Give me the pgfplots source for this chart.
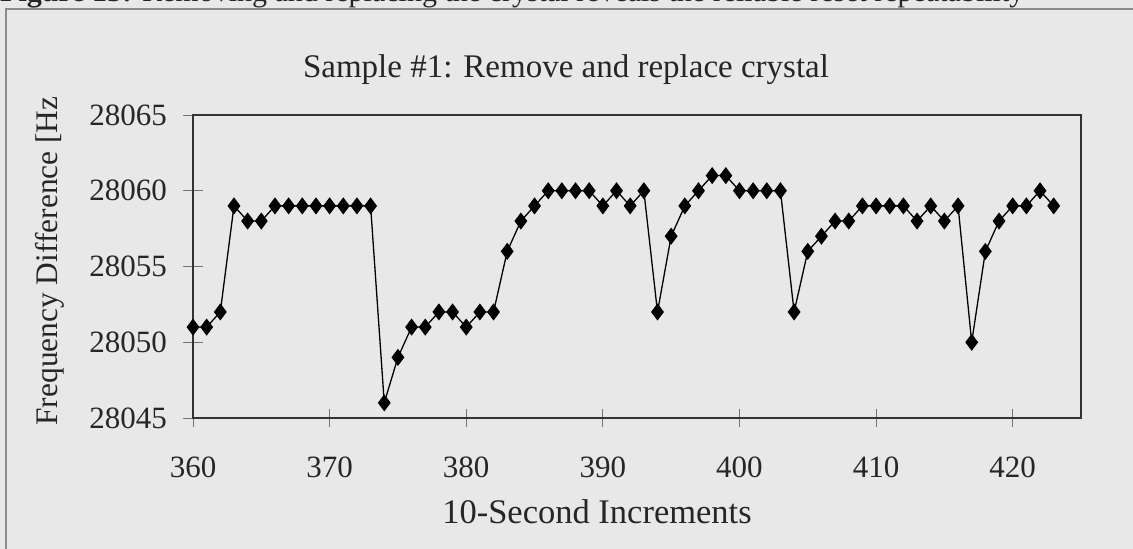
\documentclass[border=0pt]{standalone}
\usepackage{pgfplots}
\pgfplotsset{compat=1.18}
\usepackage{fontspec}
\setmainfont{Liberation Serif}
\definecolor{bg}{RGB}{232,232,232}
\begin{document}
\begin{tikzpicture}[x=1pt,y=1pt]
\fill[bg] (0,0) rectangle (1133,549);
\useasboundingbox (0,0) rectangle (1133,549);
\draw[black!45, line width=1.2pt] (6,0) -- (6,540) -- (1133,540);
\begin{scope}
\clip (0,541) rectangle (1133,549);
\node[anchor=base west, inner sep=0pt, font=\fontsize{30}{34}\selectfont, text=black!85] at (0,547) {\textbf{Figure 13:} Removing and replacing the crystal reveals the reliable reset repeatability};
\end{scope}
\begin{axis}[
  at={(193pt,131pt)}, anchor=south west,
  scale only axis, width=888pt, height=303pt,
  xmin=360, xmax=425, ymin=28045, ymax=28065,
  xtick={360,370,...,420}, ytick={28045,28050,...,28065},
  tick align=center, major tick length=19pt,
  every tick/.style={black!55, line width=0.7pt},
  axis line style={black!80, line width=1.5pt},
  axis background/.style={fill=bg},
  ticklabel style={font=\fontsize{31}{36}\selectfont, text=black!85},
  xticklabel style={yshift=-26pt},
  yticklabel style={xshift=-13pt},
  /pgf/number format/assume math mode=true,
  /pgf/number format/1000 sep={},
  xtick pos=bottom, ytick pos=left,
  scaled y ticks=false,
  clip=false,
]
\addplot[black, line width=1.3pt, mark=diamond*, mark size=7.5pt, mark options={fill=black, solid}] table {
x y
360 28051
361 28051
362 28052
363 28059
364 28058
365 28058
366 28059
367 28059
368 28059
369 28059
370 28059
371 28059
372 28059
373 28059
374 28046
375 28049
376 28051
377 28051
378 28052
379 28052
380 28051
381 28052
382 28052
383 28056
384 28058
385 28059
386 28060
387 28060
388 28060
389 28060
390 28059
391 28060
392 28059
393 28060
394 28052
395 28057
396 28059
397 28060
398 28061
399 28061
400 28060
401 28060
402 28060
403 28060
404 28052
405 28056
406 28057
407 28058
408 28058
409 28059
410 28059
411 28059
412 28059
413 28058
414 28059
415 28058
416 28059
417 28050
418 28056
419 28058
420 28059
421 28059
422 28060
423 28059
};
\end{axis}
\node[font=\fontsize{33}{38}\selectfont, text=black!85] at (566,479) {Sample \#1: Remove and replace crystal};
\node[font=\fontsize{34.5}{40}\selectfont, text=black!85] at (597,37) {10-Second Increments};
\node[rotate=90, font=\fontsize{31.4}{36}\selectfont, text=black!85] at (50,288) {Frequency Difference [Hz};
\end{tikzpicture}
\end{document}
